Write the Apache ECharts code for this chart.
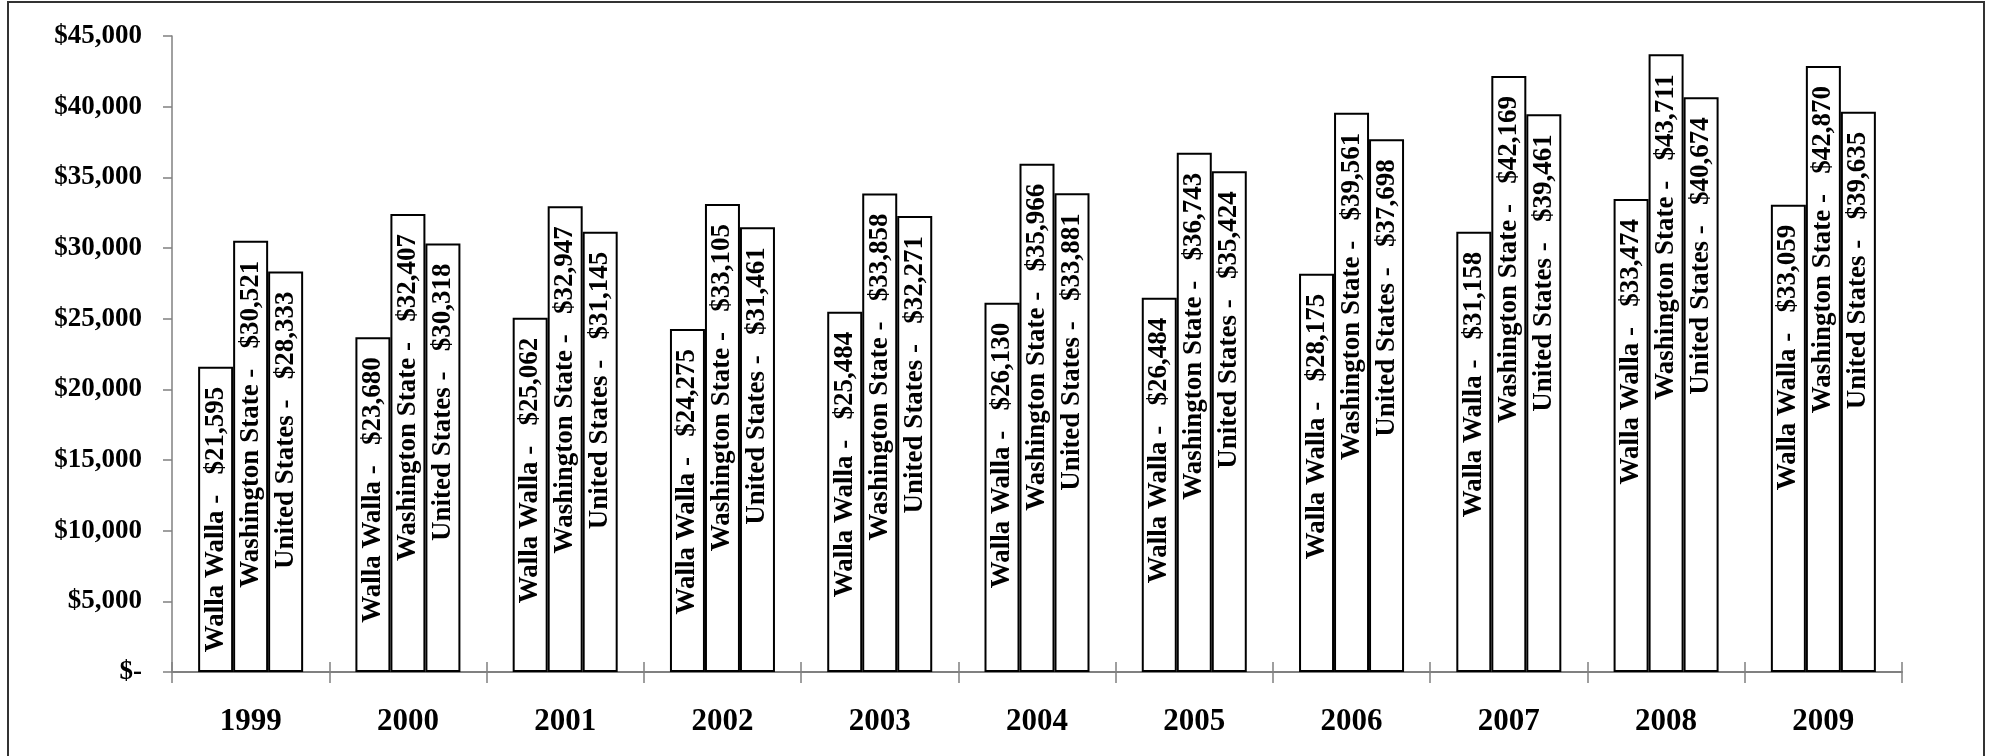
<!DOCTYPE html>
<html>
<head>
<meta charset="utf-8">
<script src="https://cdn.jsdelivr.net/npm/echarts@6/dist/echarts.min.js"></script>
<style>
  html, body { margin: 0; padding: 0; background: #fff; }
  #main { width: 1998px; height: 756px; }
</style>
</head>
<body>
<div id="main"></div>
<script>
var years = ['1999', '2000', '2001', '2002', '2003', '2004', '2005', '2006', '2007', '2008', '2009'];
var wallaWalla = [21595, 23680, 25062, 24275, 25484, 26130, 26484, 28175, 31158, 33474, 33059];
var washington = [30521, 32407, 32947, 33105, 33858, 35966, 36743, 39561, 42169, 43711, 42870];
var unitedStates = [28333, 30318, 31145, 31461, 32271, 33881, 35424, 37698, 39461, 40674, 39635];

var fontFam = '"Liberation Serif", "Times New Roman", serif';

function money(v) {
    return v === 0 ? '$-' : '$' + v.toLocaleString('en-US');
}

function barSeries(name, data) {
    return {
        name: name,
        type: 'bar',
        data: data,
        barWidth: 35,
        barGap: '0%',
        itemStyle: { color: '#fff', borderColor: '#000', borderWidth: 2 },
        label: {
            show: true,
            position: 'insideTop',
            distance: 20,
            rotate: 90,
            align: 'right',
            verticalAlign: 'middle',
            fontFamily: fontFam,
            fontWeight: 'bold',
            fontSize: 27,
            color: '#000',
            formatter: function (p) {
                return p.seriesName + ' -   ' + money(p.value);
            }
        }
    };
}

var myChart = echarts.init(document.getElementById('main'));
var option = {
    animation: false,
    grid: { left: 172, right: 96, top: 36, bottom: 84 },
    xAxis: [
        {
            type: 'category',
            data: years,
            axisLine: { lineStyle: { color: '#808080', width: 2 } },
            axisTick: { show: true, length: 11, lineStyle: { color: '#808080', width: 1.5 } },
            axisLabel: {
                margin: 34,
                fontFamily: fontFam,
                fontWeight: 'bold',
                fontSize: 31,
                color: '#000'
            }
        },
        {
            type: 'category',
            data: years,
            position: 'bottom',
            axisLine: { show: false },
            axisTick: { show: true, inside: true, length: 10, lineStyle: { color: '#808080', width: 1.5 } },
            axisLabel: { show: false }
        }
    ],
    yAxis: {
        type: 'value',
        min: 0,
        max: 45000,
        interval: 5000,
        splitLine: { show: false },
        axisLine: { show: true, lineStyle: { color: '#808080', width: 1.5 } },
        axisTick: { show: true, length: 9, lineStyle: { color: '#808080', width: 1.5 } },
        axisLabel: {
            margin: 30,
            fontFamily: fontFam,
            fontWeight: 'bold',
            fontSize: 27,
            color: '#000',
            formatter: money
        }
    },
    graphic: [{
        type: 'rect',
        shape: { x: 8, y: 2, width: 1976, height: 770 },
        style: { fill: 'none', stroke: '#333', lineWidth: 2 },
        silent: true
    }],
    series: [
        barSeries('Walla Walla', wallaWalla),
        barSeries('Washington State', washington),
        barSeries('United States', unitedStates)
    ]
};
myChart.setOption(option);
</script>
</body>
</html>
